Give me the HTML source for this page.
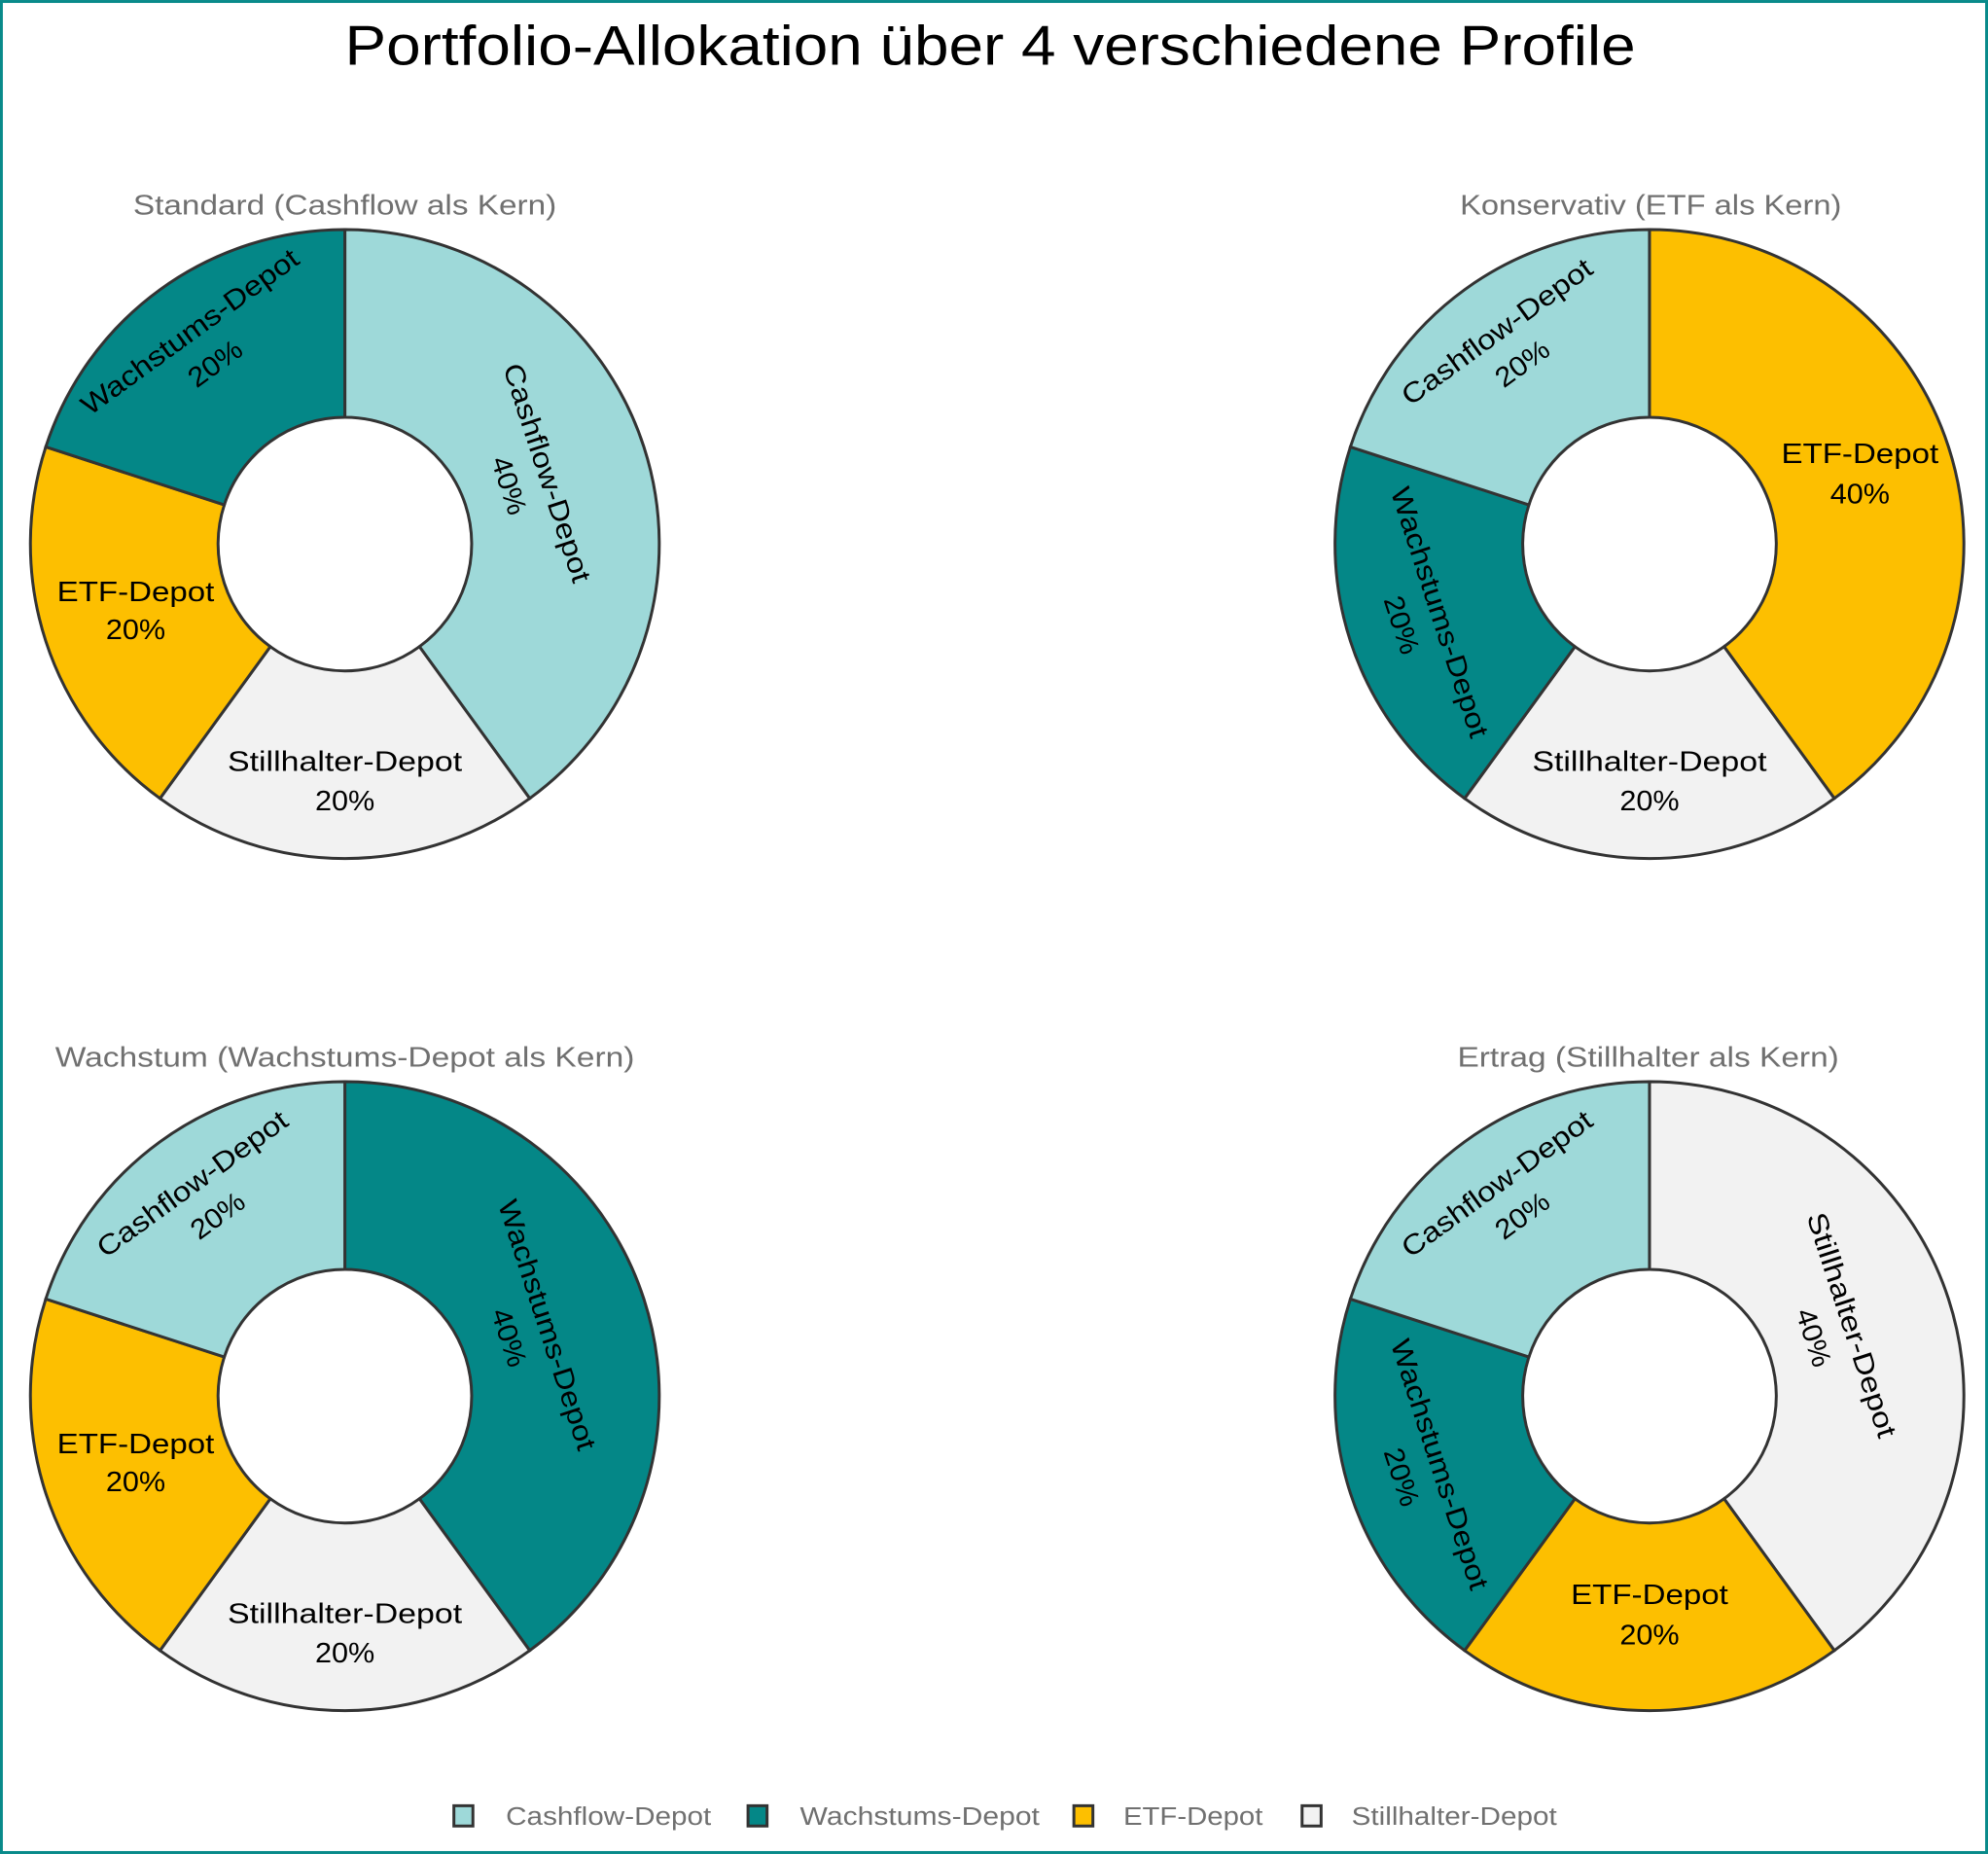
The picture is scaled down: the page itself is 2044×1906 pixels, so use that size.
<!DOCTYPE html>
<html><head><meta charset="utf-8"><style>
html,body{margin:0;padding:0;background:#fff;}
svg{display:block;}
text{font-family:"Liberation Sans",sans-serif;}
</style></head><body>
<svg width="2044" height="1906" viewBox="0 0 1568 1462" xmlns="http://www.w3.org/2000/svg">
<defs>
<path id="A" d="M0,-248 A248,248 0 0 1 145.8,200.6 L58.8,80.9 A100,100 0 0 0 0,-100Z"/>
<path id="B" d="M145.8,200.6 A248,248 0 0 1 -145.8,200.6 L-58.8,80.9 A100,100 0 0 0 58.8,80.9Z"/>
<path id="C" d="M-145.8,200.6 A248,248 0 0 1 -235.9,-76.6 L-95.1,-30.9 A100,100 0 0 0 -58.8,80.9Z"/>
<path id="D" d="M-235.9,-76.6 A248,248 0 0 1 0,-248 L0,-100 A100,100 0 0 0 -95.1,-30.9Z"/>
</defs>
<rect x="1.1" y="1.1" width="1565.8" height="1459.8" fill="#fff" stroke="#088a8a" stroke-width="2.3"/>
<text x="781" y="51" text-anchor="middle" font-size="44" fill="#000" textLength="1018" lengthAdjust="spacingAndGlyphs">Portfolio-Allokation über 4 verschiedene Profile</text>

<g stroke="#333" stroke-width="2.3">
<g transform="translate(272,429)">
<use href="#A" fill="#9ed9d9"/><use href="#B" fill="#f2f2f2"/><use href="#C" fill="#fdbf00"/><use href="#D" fill="#048787"/>
</g>
<g transform="translate(1301,429)">
<use href="#A" fill="#fdbf00"/><use href="#B" fill="#f2f2f2"/><use href="#C" fill="#048787"/><use href="#D" fill="#9ed9d9"/>
</g>
<g transform="translate(272,1101)">
<use href="#A" fill="#048787"/><use href="#B" fill="#f2f2f2"/><use href="#C" fill="#fdbf00"/><use href="#D" fill="#9ed9d9"/>
</g>
<g transform="translate(1301,1101)">
<use href="#A" fill="#f2f2f2"/><use href="#B" fill="#fdbf00"/><use href="#C" fill="#048787"/><use href="#D" fill="#9ed9d9"/>
</g>
</g>

<g font-size="22" fill="#000" text-anchor="middle" dominant-baseline="central">
<g transform="translate(272,429)">
<text transform="translate(159,-56) rotate(72)" textLength="180" lengthAdjust="spacingAndGlyphs">Cashflow-Depot</text>
<text transform="translate(129,-46) rotate(72)" textLength="47" lengthAdjust="spacingAndGlyphs">40%</text>
<text transform="translate(-122,-167) rotate(-36)" textLength="206" lengthAdjust="spacingAndGlyphs">Wachstums-Depot</text>
<text transform="translate(-102,-142) rotate(-36)" textLength="47" lengthAdjust="spacingAndGlyphs">20%</text>
<text x="-165" y="38" textLength="124" lengthAdjust="spacingAndGlyphs">ETF-Depot</text><text x="-165" y="68" textLength="47" lengthAdjust="spacingAndGlyphs">20%</text>
<text x="0" y="172" textLength="185" lengthAdjust="spacingAndGlyphs">Stillhalter-Depot</text><text x="0" y="203" textLength="47" lengthAdjust="spacingAndGlyphs">20%</text>
</g>
<g transform="translate(1301,429)">
<text x="166" y="-71" textLength="124" lengthAdjust="spacingAndGlyphs">ETF-Depot</text><text x="166" y="-39" textLength="47" lengthAdjust="spacingAndGlyphs">40%</text>
<text transform="translate(-120,-167) rotate(-36)" textLength="180" lengthAdjust="spacingAndGlyphs">Cashflow-Depot</text>
<text transform="translate(-100,-142) rotate(-36)" textLength="47" lengthAdjust="spacingAndGlyphs">20%</text>
<text transform="translate(-166,54) rotate(72)" textLength="206" lengthAdjust="spacingAndGlyphs">Wachstums-Depot</text>
<text transform="translate(-196,64) rotate(72)" textLength="47" lengthAdjust="spacingAndGlyphs">20%</text>
<text x="0" y="172" textLength="185" lengthAdjust="spacingAndGlyphs">Stillhalter-Depot</text><text x="0" y="203" textLength="47" lengthAdjust="spacingAndGlyphs">20%</text>
</g>
<g transform="translate(272,1101)">
<text transform="translate(159,-56) rotate(72)" textLength="206" lengthAdjust="spacingAndGlyphs">Wachstums-Depot</text>
<text transform="translate(129,-46) rotate(72)" textLength="47" lengthAdjust="spacingAndGlyphs">40%</text>
<text transform="translate(-120,-167) rotate(-36)" textLength="180" lengthAdjust="spacingAndGlyphs">Cashflow-Depot</text>
<text transform="translate(-100,-142) rotate(-36)" textLength="47" lengthAdjust="spacingAndGlyphs">20%</text>
<text x="-165" y="38" textLength="124" lengthAdjust="spacingAndGlyphs">ETF-Depot</text><text x="-165" y="68" textLength="47" lengthAdjust="spacingAndGlyphs">20%</text>
<text x="0" y="172" textLength="185" lengthAdjust="spacingAndGlyphs">Stillhalter-Depot</text><text x="0" y="203" textLength="47" lengthAdjust="spacingAndGlyphs">20%</text>
</g>
<g transform="translate(1301,1101)">
<text transform="translate(159,-56) rotate(72)" textLength="185" lengthAdjust="spacingAndGlyphs">Stillhalter-Depot</text>
<text transform="translate(129,-46) rotate(72)" textLength="47" lengthAdjust="spacingAndGlyphs">40%</text>
<text transform="translate(-120,-167) rotate(-36)" textLength="180" lengthAdjust="spacingAndGlyphs">Cashflow-Depot</text>
<text transform="translate(-100,-142) rotate(-36)" textLength="47" lengthAdjust="spacingAndGlyphs">20%</text>
<text transform="translate(-166,54) rotate(72)" textLength="206" lengthAdjust="spacingAndGlyphs">Wachstums-Depot</text>
<text transform="translate(-196,64) rotate(72)" textLength="47" lengthAdjust="spacingAndGlyphs">20%</text>
<text x="0" y="157" textLength="124" lengthAdjust="spacingAndGlyphs">ETF-Depot</text><text x="0" y="189" textLength="47" lengthAdjust="spacingAndGlyphs">20%</text>
</g>
</g>

<g font-size="22" fill="#707070" text-anchor="middle">
<text x="272" y="169" textLength="334" lengthAdjust="spacingAndGlyphs">Standard (Cashflow als Kern)</text>
<text x="1302" y="169" textLength="301" lengthAdjust="spacingAndGlyphs">Konservativ (ETF als Kern)</text>
<text x="272" y="841" textLength="457" lengthAdjust="spacingAndGlyphs">Wachstum (Wachstums-Depot als Kern)</text>
<text x="1300" y="841" textLength="301" lengthAdjust="spacingAndGlyphs">Ertrag (Stillhalter als Kern)</text>
</g>

<g stroke="#333" stroke-width="2.3">
<rect x="358" y="1424" width="15" height="16" fill="#9ed9d9"/>
<rect x="590" y="1424" width="15" height="16" fill="#048787"/>
<rect x="847" y="1424" width="15" height="16" fill="#fdbf00"/>
<rect x="1027" y="1424" width="15" height="16" fill="#f2f2f2"/>
</g>
<g font-size="20" fill="#707070">
<text x="399" y="1439" textLength="162" lengthAdjust="spacingAndGlyphs">Cashflow-Depot</text>
<text x="631" y="1439" textLength="189" lengthAdjust="spacingAndGlyphs">Wachstums-Depot</text>
<text x="886" y="1439" textLength="110" lengthAdjust="spacingAndGlyphs">ETF-Depot</text>
<text x="1066" y="1439" textLength="162" lengthAdjust="spacingAndGlyphs">Stillhalter-Depot</text>
</g>
</svg>
</body></html>
